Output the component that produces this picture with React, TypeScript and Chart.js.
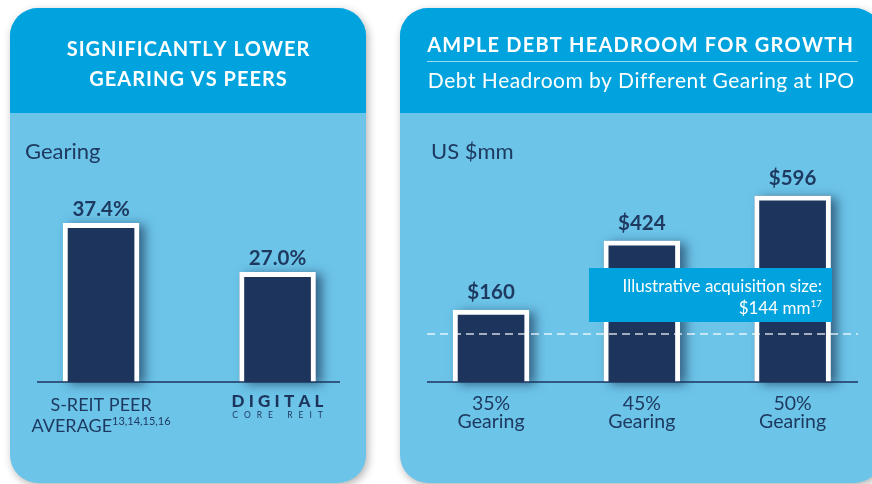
import React, { useEffect, useRef } from 'react';
import { Chart, registerables } from 'chart.js';
Chart.register(...registerables);

// ---------- data ----------
const peerCategories = ['S-REIT Peer Average', 'Digital Core REIT'];
const peerGearing = [37.4, 27.0];
const peerValueLabels = ['37.4%', '27.0%'];
const peerAxisRange = { min: 3.7, max: 52.3 };
const peerIndexRange = { min: -0.363, max: 1.354 };

const headroomCategories = ['35% Gearing', '45% Gearing', '50% Gearing'];
const headroomCategoryLines = [['35%', 'Gearing'], ['45%', 'Gearing'], ['50%', 'Gearing']];
const headroomValues = [160, 424, 596];
const headroomValueLabels = ['$160', '$424', '$596'];
const headroomAxisRange = { min: -114, max: 759 };
const headroomIndexRange = { min: -0.425, max: 2.434 };
const acquisitionGuideLevel = 69; // illustrative dashed guide (drawn level)
const acquisitionLabel = ['Illustrative acquisition size:', '$144 mm', '17'];

// ---------- style ----------
const NAVY = '#1d355d';
const TEXT_NAVY = '#1f3a60';
const HEADER_BLUE = '#00a3dd';
const BODY_BLUE = '#6cc4e9';
const FAMILY = 'Lato, "Open Sans", sans-serif';
const f = (w: number | string, s: number) => `${w} ${s}px ${FAMILY}`;

function drawSpaced(ctx: CanvasRenderingContext2D, text: string, cx: number, y: number, spacing: number) {
  const chars = [...text];
  const widths = chars.map((c) => ctx.measureText(c).width);
  const total = widths.reduce((a, b) => a + b, 0) + spacing * (chars.length - 1);
  let x = cx - total / 2;
  ctx.textAlign = 'left';
  chars.forEach((c, i) => {
    ctx.fillText(c, x, y);
    x += widths[i] + spacing;
  });
}

function drawWithSup(
  ctx: CanvasRenderingContext2D, main: string, sup: string, x0: number, y: number,
  mainFont: string, supFont: string, rise: number, align: 'center' | 'right'
) {
  ctx.font = mainFont;
  const mw = ctx.measureText(main).width;
  ctx.font = supFont;
  const sw = ctx.measureText(sup).width;
  const total = mw + sw;
  const x = align === 'center' ? x0 - total / 2 : x0 - total;
  ctx.textAlign = 'left';
  ctx.font = mainFont;
  ctx.fillText(main, x, y);
  ctx.font = supFont;
  ctx.fillText(sup, x + mw, y - rise);
}

function shadowPlugin() {
  return {
    id: 'barShadow',
    beforeDatasetsDraw(chart: any) {
      const ctx = chart.ctx;
      const meta = chart.getDatasetMeta(0);
      ctx.save();
      ctx.shadowColor = 'rgba(15,35,65,0.6)';
      ctx.shadowBlur = 10;
      ctx.shadowOffsetX = 6;
      ctx.shadowOffsetY = 2;
      ctx.fillStyle = NAVY;
      meta.data.forEach((bar: any) => {
        const p = bar.getProps(['x', 'y', 'base', 'width'], true);
        ctx.fillRect(p.x - p.width / 2, p.y, p.width, p.base - p.y);
      });
      ctx.restore();
    },
  };
}

function baseline(chart: any) {
  const ctx = chart.ctx;
  const a = chart.chartArea;
  ctx.save();
  ctx.strokeStyle = NAVY;
  ctx.lineWidth = 1.5;
  ctx.beginPath();
  ctx.moveTo(a.left, a.bottom);
  ctx.lineTo(a.right, a.bottom);
  ctx.stroke();
  ctx.restore();
}

function valueLabels(chart: any, labels: string[], gap: number) {
  const ctx = chart.ctx;
  const meta = chart.getDatasetMeta(0);
  ctx.save();
  ctx.fillStyle = TEXT_NAVY;
  ctx.font = f('bold', 20.5);
  ctx.textAlign = 'center';
  ctx.textBaseline = 'alphabetic';
  meta.data.forEach((bar: any, i: number) => {
    const p = bar.getProps(['x', 'y'], true);
    ctx.fillText(labels[i], p.x, p.y - gap);
  });
  ctx.restore();
}

const peerPlugin = {
  id: 'peerDecor',
  afterDatasetsDraw(chart: any) {
    const ctx = chart.ctx;
    const meta = chart.getDatasetMeta(0);
    baseline(chart);
    valueLabels(chart, peerValueLabels, 7.5);
    ctx.save();
    ctx.textBaseline = 'alphabetic';
    // header
    ctx.fillStyle = '#ffffff';
    ctx.font = f('bold', 20);
    drawSpaced(ctx, 'SIGNIFICANTLY LOWER', 178, 48, 1.0);
    drawSpaced(ctx, 'GEARING VS PEERS', 178, 77.7, 1.0);
    // axis title
    ctx.fillStyle = TEXT_NAVY;
    ctx.font = f('normal', 22);
    ctx.textAlign = 'left';
    ctx.fillText('Gearing', 15, 151.3);
    // category labels
    const x0 = meta.data[0].x;
    const x1 = meta.data[1].x;
    ctx.font = f('normal', 18);
    ctx.textAlign = 'center';
    ctx.fillText('S-REIT PEER', x0, 402.7);
    drawWithSup(ctx, 'AVERAGE', '13,14,15,16', x0, 424, f('normal', 18), f('normal', 11), 7, 'center');
    ctx.fillStyle = NAVY;
    ctx.font = f('900', 17);
    drawSpaced(ctx, 'DIGITAL', x1, 399.3, 4.2);
    ctx.font = f('normal', 8.5);
    drawSpaced(ctx, 'CORE REIT', x1, 409.7, 6);
    ctx.restore();
  },
};

const headroomPlugin = {
  id: 'headroomDecor',
  afterDatasetsDraw(chart: any) {
    const ctx = chart.ctx;
    const a = chart.chartArea;
    const meta = chart.getDatasetMeta(0);
    baseline(chart);
    // dashed guide
    const gy = chart.scales.y.getPixelForValue(acquisitionGuideLevel);
    ctx.save();
    ctx.strokeStyle = 'rgba(255,255,255,0.8)';
    ctx.lineWidth = 1.5;
    ctx.setLineDash([8, 5]);
    ctx.beginPath();
    ctx.moveTo(a.left, gy);
    ctx.lineTo(a.right, gy);
    ctx.stroke();
    ctx.restore();
    valueLabels(chart, headroomValueLabels, 11);
    ctx.save();
    ctx.textBaseline = 'alphabetic';
    // header
    ctx.fillStyle = '#ffffff';
    ctx.font = f('bold', 20);
    drawSpaced(ctx, 'AMPLE DEBT HEADROOM FOR GROWTH', 240, 43.7, 1.2);
    ctx.strokeStyle = 'rgba(255,255,255,0.6)';
    ctx.lineWidth = 1;
    ctx.beginPath();
    ctx.moveTo(27, 53.5);
    ctx.lineTo(458, 53.5);
    ctx.stroke();
    ctx.font = f('normal', 21);
    drawSpaced(ctx, 'Debt Headroom by Different Gearing at IPO', 241, 80.3, 0.42);
    // axis title
    ctx.fillStyle = TEXT_NAVY;
    ctx.font = f('normal', 22);
    ctx.textAlign = 'left';
    ctx.fillText('US $mm', 31, 151.3);
    // category labels
    ctx.font = f('normal', 19.5);
    ctx.textAlign = 'center';
    meta.data.forEach((bar: any, i: number) => {
      ctx.fillText(headroomCategoryLines[i][0], bar.x, 402);
      ctx.fillText(headroomCategoryLines[i][1], bar.x, 420.3);
    });
    // callout
    ctx.fillStyle = HEADER_BLUE;
    ctx.fillRect(189, 260, 243, 54);
    ctx.fillStyle = '#ffffff';
    ctx.font = f('normal', 17);
    ctx.textAlign = 'right';
    ctx.fillText(acquisitionLabel[0], 422, 284.3);
    drawWithSup(ctx, acquisitionLabel[1], acquisitionLabel[2], 422, 306, f('normal', 17), f('normal', 10), 7, 'right');
    ctx.restore();
  },
};

function makeConfig(values: number[], cats: string[], yr: any, xr: any, pad: any, plugin: any) {
  return {
    type: 'bar' as const,
    data: {
      labels: cats,
      datasets: [
        {
          data: values.map((v, i) => ({ x: i, y: v })),
          backgroundColor: NAVY,
          borderColor: '#ffffff',
          borderWidth: 5,
          barThickness: 76,
          base: yr.min,
        },
      ],
    },
    options: {
      animation: false,
      responsive: false,
      maintainAspectRatio: false,
      events: [],
      layout: { padding: pad },
      plugins: { legend: { display: false }, tooltip: { enabled: false } },
      scales: {
        x: { type: 'linear', min: xr.min, max: xr.max, offset: false, display: false },
        y: { type: 'linear', min: yr.min, max: yr.max, display: false },
      },
    },
    plugins: [shadowPlugin(), plugin],
  };
}

export default function App() {
  const leftRef = useRef<HTMLCanvasElement>(null);
  const rightRef = useRef<HTMLCanvasElement>(null);

  useEffect(() => {
    const c1 = new Chart(
      leftRef.current!,
      makeConfig(peerGearing, peerCategories, peerAxisRange, peerIndexRange,
        { left: 27, right: 26, top: 145, bottom: 101 }, peerPlugin) as any
    );
    const c2 = new Chart(
      rightRef.current!,
      makeConfig(headroomValues, headroomCategories, headroomAxisRange, headroomIndexRange,
        { left: 27, right: 14, top: 145, bottom: 101 }, headroomPlugin) as any
    );
    return () => {
      c1.destroy();
      c2.destroy();
    };
  }, []);

  const panel: React.CSSProperties = {
    position: 'absolute',
    top: 8,
    height: 475,
    borderRadius: 28,
    background: BODY_BLUE,
    overflow: 'hidden',
    boxShadow: '2px 3px 9px rgba(0,0,0,0.3)',
  };

  return (
    <div style={{ position: 'fixed', left: 0, top: 0, width: 872, height: 484, overflow: 'hidden', background: '#fff' }}>
      <div style={{ ...panel, left: 10, width: 356 }}>
        <div style={{ height: 105, background: HEADER_BLUE }} />
      </div>
      <div style={{ ...panel, left: 400, width: 482 }}>
        <div style={{ height: 105, background: HEADER_BLUE }} />
      </div>
      <canvas ref={leftRef} width={356} height={475}
        style={{ position: 'absolute', left: 10, top: 8, width: 356, height: 475 }} />
      <canvas ref={rightRef} width={472} height={475}
        style={{ position: 'absolute', left: 400, top: 8, width: 472, height: 475 }} />
    </div>
  );
}
